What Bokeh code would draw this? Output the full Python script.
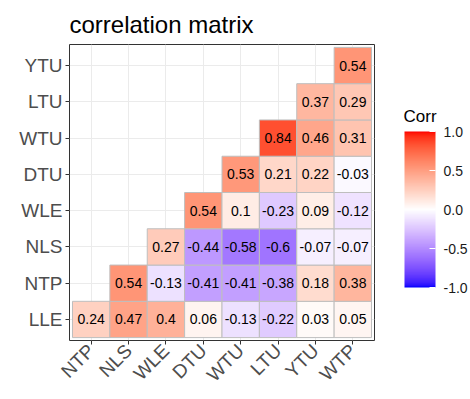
import math
from bokeh.plotting import figure
from bokeh.layouts import row
from bokeh.models import (ColumnDataSource, LinearColorMapper, ColorBar, FixedTicker,
                          PrintfTickFormatter, FactorRange, Label)
from bokeh.transform import transform
from bokeh.core.properties import value
from bokeh.embed import file_html
from bokeh.resources import INLINE

# ---------------- data ----------------
x_labels = ["NTP", "NLS", "WLE", "DTU", "WTU", "LTU", "YTU", "WTP"]
y_labels = ["LLE", "NTP", "NLS", "WLE", "DTU", "WTU", "LTU", "YTU"]

# row i (y_labels[i]) holds correlations against x_labels[i:]
corr_LLE = [0.24, 0.47, 0.4, 0.06, -0.13, -0.22, 0.03, 0.05]
corr_NTP = [0.54, -0.13, -0.41, -0.41, -0.38, 0.18, 0.38]
corr_NLS = [0.27, -0.44, -0.58, -0.6, -0.07, -0.07]
corr_WLE = [0.54, 0.1, -0.23, 0.09, -0.12]
corr_DTU = [0.53, 0.21, 0.22, -0.03]
corr_WTU = [0.84, 0.46, 0.31]
corr_LTU = [0.37, 0.29]
corr_YTU = [0.54]

legend_ticks = [-1.0, -0.5, 0.0, 0.5, 1.0]

rows = [corr_LLE, corr_NTP, corr_NLS, corr_WLE, corr_DTU, corr_WTU, corr_LTU, corr_YTU]

xs, ys, vals, labels = [], [], [], []
for i, r_ in enumerate(rows):
    for j, v in enumerate(r_):
        xs.append(x_labels[i + j])
        ys.append(y_labels[i])
        vals.append(v)
        labels.append(f"{v:g}")

src = ColumnDataSource(dict(x=xs, y=ys, v=vals, label=labels))

# ---------------- palette (blue-white-red, interpolated in CIELAB) ----------------
def _lin(c):
    c = c / 255.0
    return c / 12.92 if c <= 0.04045 else ((c + 0.055) / 1.055) ** 2.4

def _gam(c):
    c = 12.92 * c if c <= 0.0031308 else 1.055 * c ** (1 / 2.4) - 0.055
    return max(0, min(255, round(c * 255)))

Xn, Yn, Zn = 0.95047, 1.0, 1.08883
d = 6 / 29

def _f(t):
    return t ** (1 / 3) if t > d ** 3 else t / (3 * d * d) + 4 / 29

def _finv(t):
    return t ** 3 if t > d else 3 * d * d * (t - 4 / 29)

def to_lab(rgb):
    r, g, b = (_lin(c) for c in rgb)
    X = 0.4124564 * r + 0.3575761 * g + 0.1804375 * b
    Y = 0.2126729 * r + 0.7151522 * g + 0.0721750 * b
    Z = 0.0193339 * r + 0.1191920 * g + 0.9503041 * b
    fx, fy, fz = _f(X / Xn), _f(Y / Yn), _f(Z / Zn)
    return (116 * fy - 16, 500 * (fx - fy), 200 * (fy - fz))

def to_hex(lab):
    L, a, b = lab
    fy = (L + 16) / 116
    fx = fy + a / 500
    fz = fy - b / 200
    X, Y, Z = Xn * _finv(fx), Yn * _finv(fy), Zn * _finv(fz)
    r = 3.2404542 * X - 1.5371385 * Y - 0.4985314 * Z
    g = -0.9692660 * X + 1.8760108 * Y + 0.0415560 * Z
    bb = 0.0556434 * X - 0.2040259 * Y + 1.0572252 * Z
    return "#%02x%02x%02x" % (_gam(max(r, 0)), _gam(max(g, 0)), _gam(max(bb, 0)))

lab_w = to_lab((255, 255, 255))
lab_b = to_lab((0, 0, 255))
lab_r = to_lab((255, 0, 0))

palette = []
N = 256
for i in range(N):
    t = -1 + 2 * i / (N - 1)
    end = lab_b if t < 0 else lab_r
    s = abs(t)
    palette.append(to_hex(tuple(lab_w[k] + (end[k] - lab_w[k]) * s for k in range(3))))

mapper = LinearColorMapper(palette=palette, low=-1, high=1)

# ---------------- main figure ----------------
FONT = "Liberation Sans"

p = figure(
    x_range=FactorRange(factors=x_labels, range_padding=0.08, range_padding_units="absolute"),
    y_range=FactorRange(factors=y_labels, range_padding=0.08, range_padding_units="absolute"),
    width=388, height=395,
    min_border_left=69, min_border_right=14, min_border_top=44, min_border_bottom=48,
    output_backend="svg", toolbar_location=None, title="correlation matrix",
)

p.rect(x="x", y="y", width=1, height=1, source=src,
       fill_color=transform("v", mapper), line_color="#BEBEBE", line_width=1)
p.text(x="x", y="y", text="label", source=src, text_align="center", text_baseline="middle",
       text_font=value(FONT), text_font_size="14px", text_color="black")

p.title.text_font = FONT
p.title.text_font_size = "24px"
p.title.text_font_style = "normal"
p.title.text_color = "black"
p.title.align = "left"
p.title.standoff = 14

p.background_fill_color = "white"
p.border_fill_color = "white"
p.outline_line_color = "#333333"
p.outline_line_width = 1
p.grid.grid_line_color = "#EBEBEB"
p.grid.grid_line_width = 1

for ax in p.axis:
    ax.axis_line_color = None
    ax.major_tick_line_color = "#333333"
    ax.major_tick_out = 4
    ax.major_tick_in = 0
    ax.minor_tick_line_color = None
    ax.major_label_text_font = FONT
    ax.major_label_text_font_size = "19px"
    ax.major_label_text_color = "#4D4D4D"
    ax.major_label_standoff = 3
p.xaxis.major_label_orientation = math.pi / 4

# ---------------- legend panel ----------------
lg = figure(width=82, height=395, x_axis_type=None, y_axis_type=None,
            min_border=0, output_backend="svg", toolbar_location=None)
lg.outline_line_color = None
lg.background_fill_color = "white"
lg.border_fill_color = "white"

cb = ColorBar(
    color_mapper=mapper,
    ticker=FixedTicker(ticks=legend_ticks),
    formatter=PrintfTickFormatter(format="%.1f"),
    width=31, height=156,
    major_label_text_font=FONT, major_label_text_font_size="14px",
    major_label_text_color="#1A1A1A",
    major_tick_line_color="white", major_tick_in=6, major_tick_out=0,
    minor_tick_line_color=None,
    bar_line_color=None, border_line_color=None, background_fill_color=None,
    label_standoff=8, padding=0, margin=0,
    location=(16, 53),
)
lg.add_layout(cb, "center")

legend_title = Label(x=15, y=224, x_units="screen", y_units="screen", text="Corr",
                     text_font=FONT, text_font_size="17px", text_color="black",
                     text_baseline="alphabetic", text_align="left")
lg.add_layout(legend_title)

layout = row(p, lg, spacing=0)

open("out.html", "w").write(file_html(layout, INLINE))
